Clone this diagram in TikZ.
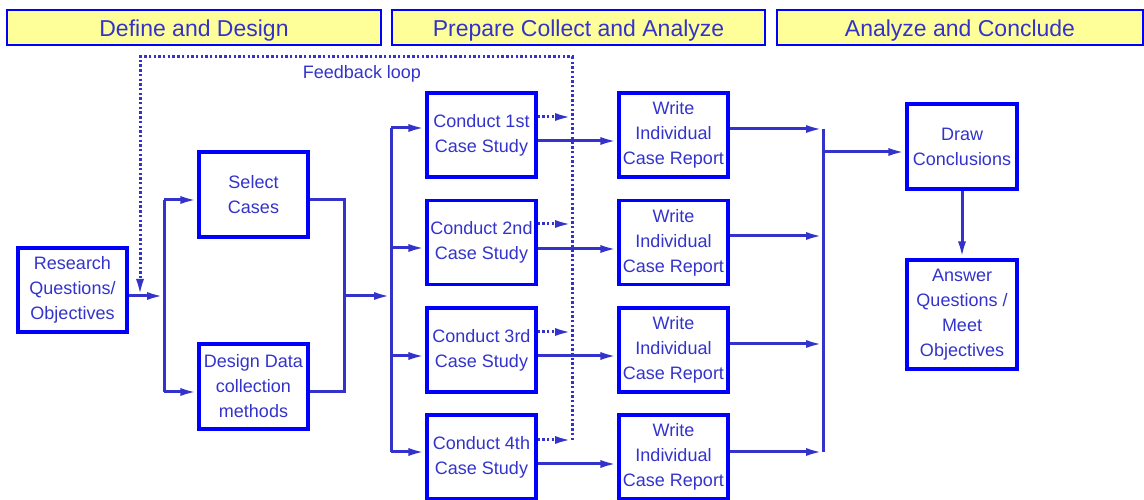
\documentclass[tikz,border=0pt]{standalone}
\usepackage{fontspec}
\setmainfont{Liberation Sans}
\usetikzlibrary{arrows.meta}
\definecolor{flowblue}{HTML}{3333CC}
\definecolor{edgeblue}{HTML}{0000FF}
\definecolor{hdryellow}{HTML}{FFFF99}
\begin{document}
\begin{tikzpicture}[>={Latex[length=17bp,width=8bp]},line join=miter,
  box/.style={draw=edgeblue,line width=3.2bp,text=flowblue,align=center,inner sep=0pt,
    minimum width=109bp,minimum height=84bp,font=\fontsize{18bp}{25bp}\selectfont},
  header/.style={draw=edgeblue,line width=1.6bp,fill=hdryellow,text=flowblue,inner sep=0pt,
    minimum height=35bp,text height=19bp,text depth=0bp,font=\fontsize{23bp}{28bp}\selectfont},
  flow/.style={flowblue,line width=3bp},
  loopline/.style={flowblue,line width=3bp,dash pattern=on 2.4bp off 2.3bp}]
\useasboundingbox (0bp,0bp) rectangle (1144bp,500bp);
%%
\node (hdr_1) at (194.0bp,472.5bp) [header,minimum width=374bp] {Define and Design};
  \node (hdr_2) at (578.5bp,472.5bp) [header,minimum width=373bp] {Prepare Collect and Analyze};
  \node (hdr_3) at (960.0bp,472.5bp) [header,minimum width=366bp] {Analyze and Conclude};
  \node (fb_label) at (362.0bp,426.0bp) [text=flowblue,font=\fontsize{18bp}{25bp}\selectfont] {Feedback loop};
%
\node (research) at (72.5bp,210.0bp) [box] {Research\\Questions/\\Objectives};
  \node (select) at (253.5bp,305.5bp) [box,minimum height=85bp] {Select\\Cases};
  \node (design) at (253.5bp,113.5bp) [box,minimum height=85bp] {Design Data\\collection\\methods};
  \node (conduct_1) at (481.5bp,365.0bp) [box] {Conduct 1st\\Case Study};
  \node (conduct_2) at (481.5bp,257.5bp) [box] {Conduct 2nd\\Case Study};
  \node (conduct_3) at (481.5bp,150.0bp) [box] {Conduct 3rd\\Case Study};
  \node (conduct_4) at (481.5bp,43.0bp) [box] {Conduct 4th\\Case Study};
  \node (write_1) at (673.5bp,365.0bp) [box] {Write\\Individual\\Case Report};
  \node (write_2) at (673.5bp,257.5bp) [box] {Write\\Individual\\Case Report};
  \node (write_3) at (673.5bp,150.0bp) [box] {Write\\Individual\\Case Report};
  \node (write_4) at (673.5bp,43.0bp) [box] {Write\\Individual\\Case Report};
  \node (conclude) at (962.0bp,353.5bp) [box,minimum width=110bp,minimum height=85bp] {Draw\\Conclusions};
  \node (answer) at (962.0bp,185.5bp) [box,minimum width=110bp,minimum height=109bp] {Answer\\Questions /\\Meet\\Objectives};
%
\coordinate (split_a1) at (164bp,300bp);
  \coordinate (split_a2) at (164bp,204bp);
  \coordinate (split_a3) at (164bp,108bp);
  \coordinate (join_b1) at (344bp,300bp);
  \coordinate (join_b2) at (344bp,204bp);
  \coordinate (join_b3) at (344bp,108bp);
  \coordinate (split_c1) at (391bp,372bp);
  \coordinate (split_c2) at (391bp,252bp);
  \coordinate (split_c3) at (391bp,144bp);
  \coordinate (split_c4) at (391bp,48bp);
  \coordinate (row_1) at (580bp,359bp);
  \coordinate (row_2) at (580bp,251bp);
  \coordinate (row_3) at (580bp,144bp);
  \coordinate (row_4) at (580bp,36bp);
  \coordinate (fb_1) at (572bp,383bp);
  \coordinate (fb_2) at (572bp,276bp);
  \coordinate (fb_3) at (572bp,168bp);
  \coordinate (fb_4) at (572bp,60bp);
  \coordinate (fb_tr) at (572bp,443bp);
  \coordinate (fb_tl) at (140bp,443bp);
  \coordinate (join_d1) at (823bp,371bp);
  \coordinate (join_d2) at (823bp,264bp);
  \coordinate (join_d3) at (823bp,156bp);
  \coordinate (join_d4) at (823bp,48bp);
  \coordinate (join_d0) at (823bp,348bp);
%
\draw [flow,->] (split_a2 -| research.east) -- (split_a2);
  \draw [flow] (split_a1) -- (split_a3);
  \draw [flow,->] (split_a1) -- (split_a1 -| select.west);
  \draw [flow,->] (split_a3) -- (split_a3 -| design.west);
  \draw [flow] (join_b1 -| select.east) -- (join_b1) -- (join_b3) -- (join_b3 -| design.east);
  \draw [flow,->] (join_b2) -- (split_c2 |- join_b2);
  \draw [flow] (split_c1) -- (split_c4);
  \draw [flow,->] (split_c1) -- (split_c1 -| conduct_1.west);
  \draw [flow,->] (split_c2) -- (split_c2 -| conduct_2.west);
  \draw [flow,->] (split_c3) -- (split_c3 -| conduct_3.west);
  \draw [flow,->] (split_c4) -- (split_c4 -| conduct_4.west);
  \draw [flow,->] (row_1 -| conduct_1.east) -- (row_1 -| write_1.west);
  \draw [flow,->] (row_2 -| conduct_2.east) -- (row_2 -| write_2.west);
  \draw [flow,->] (row_3 -| conduct_3.east) -- (row_3 -| write_3.west);
  \draw [flow,->] (row_4 -| conduct_4.east) -- (row_4 -| write_4.west);
  \draw [loopline,->] (fb_1 -| conduct_1.east) -- (fb_1);
  \draw [loopline,->] (fb_2 -| conduct_2.east) -- (fb_2);
  \draw [loopline,->] (fb_3 -| conduct_3.east) -- (fb_3);
  \draw [loopline,->] (fb_4 -| conduct_4.east) -- (fb_4);
  \draw [loopline,->] (fb_4) -- (fb_tr) -- (fb_tl) -- (fb_tl |- split_a2);
  \draw [flow,->] (join_d1 -| write_1.east) -- (join_d1);
  \draw [flow,->] (join_d2 -| write_2.east) -- (join_d2);
  \draw [flow,->] (join_d3 -| write_3.east) -- (join_d3);
  \draw [flow,->] (join_d4 -| write_4.east) -- (join_d4);
  \draw [flow] (join_d1) -- (join_d4);
  \draw [flow,->] (join_d0) -- (join_d0 -| conclude.west);
  \draw [flow,->] (conclude.south) -- (answer.north);
%
\end{tikzpicture}
\end{document}
